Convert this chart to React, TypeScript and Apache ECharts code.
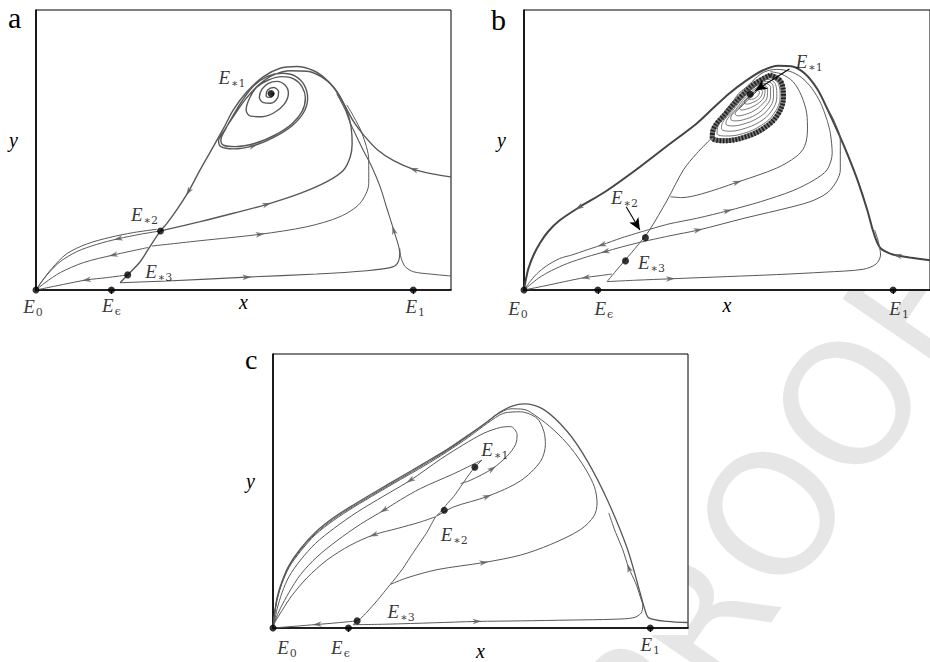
import { useEffect, useRef } from "react";
import * as echarts from "echarts";

type Pt = [number, number];

// x is scaled so that E1 sits at 1; y spans the frame height.
const X_MAX = 1.1;
const Y_MAX = 1;

// Equilibria on the x-axis (E0, Eϵ, E1) and in the interior (E∗1, E∗2, E∗3)
const boundaryX = [0, 0.2, 1];
const boundarySubs = ["0", "ϵ", "1"];
const interiorSubs = ["∗1", "∗2", "∗3"];

const aInterior: Pt[] = [[0.623, 0.702], [0.33, 0.211], [0.243, 0.054]];
const bInterior: Pt[] = [[0.613, 0.699], [0.329, 0.187], [0.275, 0.104]];
const cInterior: Pt[] = [[0.535, 0.587], [0.454, 0.43], [0.223, 0.026]];

// ---------------- panel a ----------------
const aHump: Pt[] = [
  [1.1, 0.404], [1.054, 0.414], [1.001, 0.431], [0.948, 0.462], [0.904, 0.502], [0.868, 0.554],
  [0.842, 0.601], [0.82, 0.655], [0.797, 0.708], [0.771, 0.75], [0.736, 0.783], [0.691, 0.798],
  [0.647, 0.792], [0.603, 0.762], [0.559, 0.708], [0.523, 0.643], [0.497, 0.577], [0.47, 0.512],
  [0.435, 0.429], [0.404, 0.351], [0.373, 0.286], [0.347, 0.238], [0.33, 0.211], [0.302, 0.155],
  [0.276, 0.101], [0.243, 0.054], [0.223, 0.026],
];
const aBottom: Pt[] = [
  [0.223, 0.026], [0.347, 0.032], [0.559, 0.046], [0.744, 0.057], [0.877, 0.069], [0.939, 0.08],
  [0.958, 0.095], [0.964, 0.131], [0.948, 0.214], [0.93, 0.292], [0.912, 0.369], [0.89, 0.44],
  [0.867, 0.5], [0.846, 0.559], [0.833, 0.596], [0.82, 0.643], [0.797, 0.702],
];
const aRightLow: Pt[] = [[1.1, 0.05], [1.045, 0.057], [1.001, 0.065], [0.979, 0.083], [0.968, 0.113], [0.964, 0.149]];
const aSpiral: Pt[] = [
  [0.33, 0.211], [0.435, 0.244], [0.523, 0.274], [0.612, 0.306], [0.7, 0.345], [0.771, 0.387],
  [0.815, 0.428], [0.833, 0.476], [0.838, 0.524], [0.835, 0.583], [0.826, 0.631], [0.811, 0.678],
  [0.789, 0.724], [0.758, 0.76], [0.718, 0.781], [0.674, 0.783], [0.63, 0.768], [0.59, 0.732],
  [0.554, 0.679], [0.523, 0.619], [0.499, 0.569],
  [0.484, 0.533], [0.49, 0.512], [0.523, 0.504], [0.576, 0.515], [0.63, 0.545], [0.678, 0.586],
  [0.709, 0.633], [0.72, 0.685], [0.711, 0.732], [0.687, 0.764], [0.652, 0.774], [0.612, 0.762],
  [0.578, 0.73], [0.548, 0.679], [0.523, 0.625], [0.501, 0.571], [0.49, 0.536], [0.497, 0.517],
  [0.528, 0.512], [0.581, 0.524], [0.634, 0.554], [0.678, 0.593], [0.705, 0.637], [0.714, 0.685],
  [0.705, 0.726], [0.683, 0.754], [0.652, 0.762], [0.616, 0.75], [0.585, 0.724], [0.566, 0.685],
  [0.557, 0.643], [0.569, 0.621], [0.599, 0.619], [0.631, 0.633], [0.658, 0.664], [0.669, 0.702],
  [0.66, 0.732], [0.638, 0.745], [0.616, 0.738], [0.599, 0.717], [0.592, 0.688], [0.603, 0.669],
  [0.622, 0.667], [0.64, 0.685], [0.643, 0.708], [0.63, 0.723], [0.614, 0.714], [0.61, 0.694],
  [0.622, 0.688], [0.631, 0.702], [0.623, 0.702],
];
const aMidRight: Pt[] = [
  [0.307, 0.157], [0.435, 0.176], [0.594, 0.199], [0.718, 0.226], [0.806, 0.262], [0.859, 0.31],
  [0.882, 0.381], [0.882, 0.464], [0.864, 0.56], [0.842, 0.619], [0.824, 0.661],
];
const aMidLeft: Pt[] = [[0.298, 0.152], [0.205, 0.125], [0.126, 0.098], [0.064, 0.062], [0.024, 0.026], [0, 0]];
const aFromE2: Pt[] = [
  [0.33, 0.211], [0.276, 0.199], [0.218, 0.183], [0.161, 0.163], [0.108, 0.137], [0.064, 0.101],
  [0.033, 0.06], [0.012, 0.024], [0, 0],
];
const aAboveE2: Pt[] = [
  [0.32, 0.217], [0.258, 0.205], [0.196, 0.188], [0.134, 0.164], [0.081, 0.129], [0.042, 0.077],
  [0.015, 0.03], [0, 0],
];
const aFromE3: Pt[] = [[0.243, 0.054], [0.187, 0.044], [0.134, 0.036], [0.073, 0.02], [0, 0]];

// ---------------- panel b ----------------
const bHump: Pt[] = [
  [0, 0], [0.004, 0.03], [0.012, 0.077], [0.026, 0.125], [0.043, 0.167], [0.065, 0.208],
  [0.096, 0.248], [0.149, 0.295], [0.22, 0.351], [0.3, 0.426], [0.384, 0.511], [0.468, 0.595],
  [0.512, 0.649], [0.556, 0.702], [0.6, 0.746], [0.645, 0.783], [0.689, 0.801], [0.724, 0.799],
  [0.76, 0.774], [0.795, 0.717], [0.821, 0.649], [0.852, 0.56], [0.879, 0.476], [0.905, 0.387],
  [0.93, 0.286], [0.945, 0.214], [0.954, 0.179], [0.966, 0.149], [0.99, 0.131], [1.012, 0.123],
  [1.045, 0.116], [1.1, 0.106],
];
const bOverTop: Pt[] = [
  [0.821, 0.607], [0.804, 0.667], [0.78, 0.72], [0.751, 0.76], [0.72, 0.781], [0.684, 0.788],
  [0.651, 0.779], [0.627, 0.756], [0.609, 0.732], [0.582, 0.702], [0.569, 0.679], [0.543, 0.637],
  [0.516, 0.583], [0.506, 0.554], [0.51, 0.545],
];
const bSeparatrix: Pt[] = [
  [0.225, 0.03], [0.249, 0.068], [0.273, 0.105], [0.309, 0.161], [0.34, 0.214], [0.388, 0.321],
  [0.432, 0.429], [0.468, 0.488], [0.508, 0.542],
];
const bBottom: Pt[] = [
  [0.225, 0.03], [0.304, 0.035], [0.397, 0.04], [0.552, 0.048], [0.684, 0.055], [0.817, 0.064],
  [0.919, 0.074], [0.954, 0.093], [0.966, 0.125], [0.96, 0.173], [0.95, 0.214],
];
const bUpperLeft: Pt[] = [
  [0.326, 0.211], [0.264, 0.186], [0.211, 0.161], [0.163, 0.14], [0.132, 0.126], [0.096, 0.112],
  [0.061, 0.086], [0.034, 0.057], [0.014, 0.026], [0, 0],
];
const bLowerLeft: Pt[] = [
  [0.313, 0.17], [0.26, 0.152], [0.22, 0.137], [0.172, 0.119], [0.118, 0.095], [0.074, 0.069],
  [0.039, 0.042], [0, 0],
];
const bBottomLeft: Pt[] = [[0.238, 0.057], [0.198, 0.05], [0.167, 0.045], [0.11, 0.03], [0.057, 0.015], [0, 0]];
const bUpperRight: Pt[] = [
  [0.326, 0.211], [0.393, 0.236], [0.468, 0.256], [0.552, 0.283], [0.64, 0.315], [0.729, 0.355],
  [0.786, 0.393], [0.821, 0.429], [0.835, 0.488], [0.83, 0.56], [0.821, 0.607],
];
const bLowerRight: Pt[] = [
  [0.313, 0.17], [0.393, 0.193], [0.472, 0.214], [0.596, 0.256], [0.729, 0.298], [0.786, 0.321],
  [0.83, 0.357], [0.857, 0.429], [0.857, 0.536], [0.839, 0.607], [0.821, 0.649],
];
const bInner: Pt[] = [
  [0.397, 0.333], [0.428, 0.33], [0.481, 0.343], [0.578, 0.385], [0.684, 0.435], [0.737, 0.476],
  [0.76, 0.512], [0.768, 0.571], [0.766, 0.631], [0.751, 0.696], [0.729, 0.744], [0.698, 0.771],
  [0.667, 0.78],
];
const bOuterRing: Pt[] = [
  [0.667, 0.767], [0.696, 0.744], [0.703, 0.69], [0.687, 0.625], [0.649, 0.577], [0.596, 0.545],
  [0.543, 0.533], [0.51, 0.545], [0.514, 0.577], [0.547, 0.631], [0.587, 0.69], [0.627, 0.738],
  [0.667, 0.767],
];
const bSpiral: Pt[] = [
  [0.664, 0.76], [0.689, 0.738], [0.694, 0.69], [0.678, 0.631], [0.643, 0.588], [0.594, 0.559],
  [0.549, 0.55], [0.523, 0.559], [0.526, 0.586], [0.556, 0.636], [0.592, 0.69], [0.629, 0.733],
  [0.66, 0.752], [0.682, 0.733], [0.685, 0.69], [0.67, 0.638], [0.638, 0.6], [0.593, 0.575],
  [0.556, 0.567], [0.535, 0.576], [0.538, 0.598], [0.565, 0.64], [0.596, 0.69], [0.63, 0.729],
  [0.657, 0.745], [0.675, 0.729], [0.676, 0.69], [0.662, 0.646], [0.632, 0.613], [0.593, 0.592],
  [0.563, 0.586], [0.547, 0.593], [0.551, 0.611], [0.574, 0.645], [0.6, 0.689], [0.632, 0.724],
  [0.653, 0.738], [0.668, 0.724], [0.668, 0.69], [0.654, 0.655], [0.628, 0.626], [0.594, 0.608],
  [0.571, 0.604], [0.56, 0.611], [0.563, 0.625], [0.583, 0.652], [0.605, 0.688], [0.634, 0.719],
  [0.649, 0.731], [0.66, 0.719], [0.659, 0.69], [0.646, 0.664], [0.623, 0.64], [0.597, 0.626],
  [0.58, 0.622], [0.572, 0.629], [0.576, 0.639], [0.592, 0.659], [0.607, 0.686], [0.632, 0.714],
  [0.645, 0.725], [0.653, 0.714], [0.651, 0.692], [0.639, 0.671], [0.62, 0.655], [0.6, 0.645],
  [0.589, 0.643], [0.584, 0.648], [0.588, 0.657], [0.6, 0.669], [0.611, 0.684], [0.63, 0.709],
  [0.639, 0.719], [0.646, 0.709], [0.643, 0.693], [0.633, 0.679], [0.618, 0.669], [0.606, 0.664],
  [0.599, 0.665], [0.597, 0.671], [0.602, 0.679], [0.609, 0.687], [0.618, 0.698], [0.628, 0.706],
  [0.632, 0.713], [0.638, 0.706], [0.634, 0.694], [0.625, 0.684], [0.616, 0.681], [0.609, 0.682],
  [0.607, 0.687], [0.611, 0.693], [0.616, 0.7], [0.623, 0.706], [0.618, 0.701], [0.613, 0.699],
];
// pointer arrows from the labels to E∗2 and E∗1
const bPointers: [Pt, Pt][] = [
  [[0.277, 0.297], [0.314, 0.214]],
  [[0.719, 0.789], [0.626, 0.712]],
];

// ---------------- panel c ----------------
const cHump: Pt[] = [
  [0, 0], [0.004, 0.052], [0.011, 0.112], [0.024, 0.171], [0.043, 0.23], [0.073, 0.29],
  [0.112, 0.349], [0.161, 0.403], [0.214, 0.45], [0.276, 0.501], [0.338, 0.551], [0.4, 0.601],
  [0.462, 0.652], [0.519, 0.705], [0.568, 0.753], [0.603, 0.789], [0.634, 0.81], [0.665, 0.818],
  [0.718, 0.797], [0.78, 0.717], [0.833, 0.61], [0.886, 0.468], [0.939, 0.29], [0.974, 0.124],
  [0.985, 0.07], [0.996, 0.037], [1.045, 0.024], [1.1, 0.02],
];
const cLoopE2: Pt[] = [
  [0.435, 0.409], [0.479, 0.442], [0.568, 0.48], [0.656, 0.537], [0.709, 0.608], [0.722, 0.67],
  [0.718, 0.717], [0.7, 0.765], [0.656, 0.789], [0.612, 0.784], [0.568, 0.747], [0.519, 0.697],
  [0.462, 0.644], [0.4, 0.591], [0.338, 0.542], [0.276, 0.492], [0.214, 0.441], [0.161, 0.393],
  [0.112, 0.34], [0.073, 0.28], [0.043, 0.222], [0.024, 0.163], [0.011, 0.103], [0.004, 0.046], [0, 0],
];
const cLoopWide: Pt[] = [
  [0.311, 0.159], [0.355, 0.183], [0.435, 0.213], [0.559, 0.239], [0.656, 0.266], [0.736, 0.305],
  [0.815, 0.359], [0.851, 0.409], [0.859, 0.456], [0.852, 0.515], [0.828, 0.581], [0.789, 0.658],
  [0.744, 0.723], [0.7, 0.771], [0.665, 0.798], [0.63, 0.8], [0.594, 0.779], [0.559, 0.743],
  [0.519, 0.702], [0.462, 0.648], [0.4, 0.596], [0.338, 0.546], [0.276, 0.496], [0.214, 0.445],
  [0.161, 0.398], [0.112, 0.344], [0.073, 0.285], [0.043, 0.227], [0.024, 0.167], [0.011, 0.108],
  [0.004, 0.05], [0, 0],
];
const cLoopE1: Pt[] = [
  [0.497, 0.527], [0.523, 0.539], [0.581, 0.581], [0.621, 0.628], [0.643, 0.67], [0.647, 0.705],
  [0.63, 0.735], [0.603, 0.732], [0.559, 0.711], [0.506, 0.67], [0.444, 0.616], [0.364, 0.539],
  [0.294, 0.482], [0.223, 0.423], [0.161, 0.363], [0.112, 0.308], [0.073, 0.248], [0.043, 0.189],
  [0.024, 0.129], [0.011, 0.07], [0, 0],
];
const cCuspLeft: Pt[] = [
  [0.554, 0.613], [0.515, 0.587], [0.479, 0.563], [0.391, 0.509], [0.338, 0.468], [0.294, 0.43],
  [0.232, 0.379], [0.17, 0.319], [0.117, 0.26], [0.073, 0.195], [0.042, 0.129], [0.019, 0.07],
  [0.006, 0.029], [0, 0],
];
const cSeparatrix: Pt[] = [
  [0.554, 0.613], [0.535, 0.587], [0.515, 0.551], [0.497, 0.515], [0.479, 0.48], [0.462, 0.454],
  [0.444, 0.423], [0.431, 0.406], [0.408, 0.349], [0.373, 0.278], [0.342, 0.213], [0.311, 0.159],
  [0.276, 0.1], [0.249, 0.058], [0.232, 0.034], [0.223, 0.026], [0.212, 0.012],
];
const cFromE2: Pt[] = [
  [0.431, 0.406], [0.391, 0.387], [0.329, 0.363], [0.267, 0.34], [0.205, 0.302], [0.143, 0.248],
  [0.09, 0.183], [0.05, 0.118], [0.024, 0.064], [0.006, 0.023], [0, 0],
];
const cFromE3: Pt[] = [[0.223, 0.026], [0.17, 0.019], [0.117, 0.013], [0.055, 0.006], [0, 0]];
const cBottom: Pt[] = [
  [0.212, 0.012], [0.302, 0.014], [0.426, 0.019], [0.541, 0.024], [0.656, 0.026], [0.789, 0.029],
  [0.904, 0.032], [0.957, 0.038], [0.976, 0.055], [0.98, 0.082], [0.974, 0.112], [0.961, 0.165],
  [0.943, 0.219], [0.926, 0.29], [0.908, 0.349], [0.89, 0.42],
];

// ---------------- layout & styling ----------------
const GRIDS = [
  { left: 36, top: 10, width: 415, height: 280 },
  { left: 524, top: 10, width: 415, height: 280 },
  { left: 273, top: 354, width: 415, height: 281 },
];
const SERIF = "Liberation Serif, DejaVu Serif, serif";
const SUBFONT = "DejaVu Serif, Liberation Serif, serif";
const CURVE = "#585858";
const ARROW_PATH = "path://M0,0L10,4L0,8L2.6,4Z";

type Curve = { data: Pt[]; width?: number; color?: string; smooth?: number; dash?: number[] | "solid" };
type ArrowRef = [Pt[], number, number];

const richLabel = {
  e: { fontFamily: SERIF, fontStyle: "italic", fontSize: 19, color: "#000", lineHeight: 22 },
  s: { fontFamily: SUBFONT, fontSize: 11, color: "#000", lineHeight: 10, padding: [12, 0, 0, 1] },
};

function buildPanel(
  g: number,
  curves: Curve[],
  arrows: ArrowRef[],
  interior: Pt[],
  boundaryOffsets: number[][],
  interiorOffsets: number[][],
  pointers: [Pt, Pt][] = []
) {
  const grid = GRIDS[g];
  const kx = grid.width / X_MAX;
  const ky = grid.height / Y_MAX;
  const out: any[] = curves.map((c) => ({
    type: "line",
    xAxisIndex: g * 2,
    yAxisIndex: g,
    data: c.data,
    symbol: "none",
    showSymbol: false,
    smooth: c.smooth ?? 0.3,
    silent: true,
    lineStyle: { color: c.color ?? CURVE, width: c.width ?? 1, type: c.dash ?? "solid" },
    z: 2,
  }));
  out.push({
    type: "scatter",
    xAxisIndex: g * 2,
    yAxisIndex: g,
    silent: true,
    symbol: ARROW_PATH,
    symbolSize: [9, 7],
    symbolKeepAspect: true,
    itemStyle: { color: "#5e5e5e" },
    z: 3,
    data: arrows.map(([c, i, dir]) => {
      const p0 = c[Math.max(0, i - 1)];
      const p1 = c[Math.min(c.length - 1, i + 1)];
      const dx = (p1[0] - p0[0]) * kx * dir;
      const dy = (p1[1] - p0[1]) * ky * dir;
      return { value: c[i], symbolRotate: (Math.atan2(dy, dx) * 180) / Math.PI };
    }),
  });
  const eqData = [
    ...boundaryX.map((x, i) => ({
      value: [x, 0],
      label: { offset: boundaryOffsets[i], formatter: `{e|E}{s|${boundarySubs[i]}}` },
    })),
    ...interior.map((p, i) => ({
      value: p,
      label: { offset: interiorOffsets[i], formatter: `{e|E}{s|${interiorSubs[i]}}` },
    })),
  ];
  out.push({
    type: "scatter",
    xAxisIndex: g * 2,
    yAxisIndex: g,
    silent: true,
    clip: false,
    symbol: "circle",
    symbolSize: 7,
    itemStyle: { color: "#000" },
    z: 5,
    label: { show: true, position: "inside", color: "#000", rich: richLabel },
    data: eqData,
    markLine: pointers.length
      ? {
          silent: true,
          symbol: ["none", "arrow"],
          symbolSize: [8, 12],
          lineStyle: { color: "#000", width: 1.1, type: "solid" },
          label: { show: false },
          data: pointers.map(([s, e]) => [{ coord: s }, { coord: e }]),
        }
      : undefined,
  });
  return out;
}

const nameStyle = { fontFamily: SERIF, fontStyle: "italic", fontSize: 20, color: "#000" };
const xNameGaps = [2, 5, 13];

function buildOption() {
  const xAxis: any[] = [];
  const yAxis: any[] = [];
  GRIDS.forEach((_, g) => {
    xAxis.push({
      gridIndex: g,
      type: "value",
      min: 0,
      max: X_MAX,
      position: "bottom",
      axisLine: { show: true, onZero: false, lineStyle: { color: "#000", width: 1.6 } },
      axisTick: { show: false },
      axisLabel: { show: false },
      splitLine: { show: false },
      name: "x",
      nameLocation: "middle",
      nameGap: xNameGaps[g],
      nameTextStyle: nameStyle,
    });
    xAxis.push({
      gridIndex: g,
      type: "value",
      min: 0,
      max: X_MAX,
      position: "top",
      axisLine: { show: false },
      axisTick: { show: true, inside: true, length: 4, customValues: boundaryX.slice(1), lineStyle: { color: "#000" } },
      axisLabel: { show: false },
      splitLine: { show: false },
    });
    yAxis.push({
      gridIndex: g,
      type: "value",
      min: 0,
      max: Y_MAX,
      axisLine: { show: true, onZero: false, lineStyle: { color: "#000", width: 1.6 } },
      axisTick: { show: false },
      axisLabel: { show: false },
      splitLine: { show: false },
      name: "y",
      nameLocation: "middle",
      nameRotate: 0,
      nameGap: 18,
      nameTextStyle: { ...nameStyle, verticalAlign: "bottom" },
    });
  });

  const series = [
    ...buildPanel(
      0,
      [
        { data: aHump, width: 1.4 },
        { data: aBottom, width: 1.1 },
        { data: aRightLow },
        { data: aSpiral, width: 1.4, smooth: 0.35 },
        { data: aMidRight },
        { data: aMidLeft },
        { data: aFromE2 },
        { data: aAboveE2 },
        { data: aFromE3 },
      ],
      [
        [aHump, 2, 1],
        [aHump, 19, 1],
        [aBottom, 2, 1],
        [aBottom, 8, 1],
        [aSpiral, 3, 1],
        [aSpiral, 24, 1],
        [aMidRight, 2, 1],
        [aMidLeft, 1, 1],
        [aFromE2, 2, 1],
        [aFromE3, 2, 1],
      ],
      aInterior,
      [[-3, 16], [0, 15], [2, 16]],
      [[-39, -16], [-16, -16], [31, -3]]
    ),
    ...buildPanel(
      1,
      [
        { data: bHump, width: 2, color: "#444" },
        { data: bOverTop },
        { data: bSeparatrix },
        { data: bBottom },
        { data: bUpperLeft },
        { data: bLowerLeft },
        { data: bBottomLeft },
        { data: bUpperRight },
        { data: bLowerRight },
        { data: bInner },
        { data: bOuterRing, width: 5, color: "#777", smooth: 0.4 },
        { data: bOuterRing, width: 5, color: "#222", smooth: 0.4, dash: [1.6, 1.6] },
        { data: bSpiral, width: 0.8, color: "#555", smooth: 0.4 },
      ],
      [
        [bHump, 7, -1],
        [bHump, 29, -1],
        [bBottom, 2, 1],
        [bUpperLeft, 2, 1],
        [bLowerLeft, 2, 1],
        [bBottomLeft, 2, 1],
        [bUpperRight, 3, 1],
        [bLowerRight, 2, 1],
        [bInner, 3, 1],
      ],
      bInterior,
      [[-6, 18], [6, 18], [6, 18]],
      [[59, -33], [-21, -40], [26, 2]],
      bPointers
    ),
    ...buildPanel(
      2,
      [
        { data: cHump, width: 1.3 },
        { data: cLoopE2 },
        { data: cLoopWide },
        { data: cLoopE1 },
        { data: cCuspLeft },
        { data: cSeparatrix, smooth: 0.2 },
        { data: cFromE2 },
        { data: cFromE3 },
        { data: cBottom },
      ],
      [
        [cLoopE2, 2, 1],
        [cLoopWide, 3, 1],
        [cLoopE1, 2, 1],
        [cLoopE1, 11, 1],
        [cCuspLeft, 5, 1],
        [cFromE2, 3, 1],
        [cFromE3, 2, 1],
        [cBottom, 3, 1],
        [cBottom, 12, 1],
      ],
      cInterior,
      [[14, 19], [-8, 19], [0, 16]],
      [[20, -18], [10, 24], [44, -9]]
    ),
  ];

  const graphic: any[] = [
    {
      type: "text",
      z: -2,
      x: 611,
      y: 752,
      rotation: 0.97,
      style: {
        text: "PROOF",
        fontFamily: "DejaVu Sans",
        fontSize: 170,
        fill: "#e6e6e6",
        verticalAlign: "middle",
        align: "left",
      },
    },
    ...GRIDS.map((gr) => ({
      type: "rect",
      z: -1,
      shape: { x: gr.left, y: gr.top, width: gr.width, height: gr.height },
      style: { fill: "#fff" },
    })),
    { type: "text", x: 8, y: 2, style: { text: "a", fontFamily: SERIF, fontSize: 30, fill: "#000" } },
    { type: "text", x: 491, y: 4, style: { text: "b", fontFamily: SERIF, fontSize: 30, fill: "#000" } },
    { type: "text", x: 245, y: 345, style: { text: "c", fontFamily: SERIF, fontSize: 28, fill: "#000" } },
  ];

  return {
    animation: false,
    backgroundColor: "#fff",
    grid: GRIDS.map((gr) => ({ ...gr, show: true, borderColor: "#000", borderWidth: 1, containLabel: false })),
    xAxis,
    yAxis,
    series,
    graphic,
  };
}

export default function App() {
  const ref = useRef<HTMLDivElement>(null);
  useEffect(() => {
    if (!ref.current) return;
    const chart = echarts.init(ref.current, undefined, { renderer: "svg" });
    chart.setOption(buildOption() as any);
    return () => chart.dispose();
  }, []);
  return (
    <div
      ref={ref}
      style={{ position: "absolute", left: 0, top: 0, width: 930, height: 662, background: "#fff", overflow: "hidden" }}
    />
  );
}
